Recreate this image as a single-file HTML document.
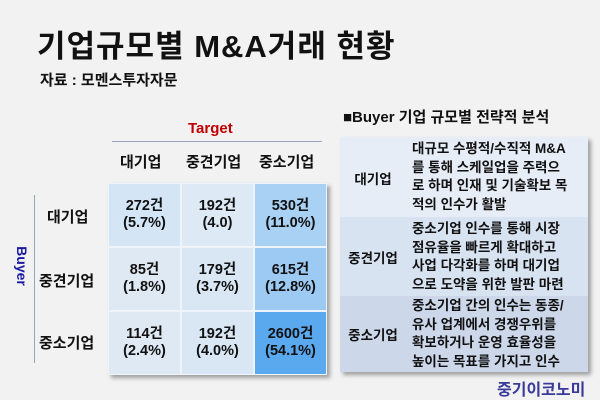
<!DOCTYPE html>
<html><head><meta charset="utf-8"><style>
body{margin:0;width:600px;height:400px;background:#f2f2f2;font-family:"Liberation Sans","Noto Sans CJK KR",sans-serif;font-weight:bold;color:#111;position:relative;overflow:hidden}
.a{position:absolute;white-space:nowrap}
.cell{position:absolute;width:73px;height:64px;display:flex;align-items:center;justify-content:center;text-align:center;font-size:14.5px;line-height:17px;border:1px solid #eef4fa;box-sizing:border-box}
.rb{position:absolute;left:340px;width:248px}
.lab{position:absolute;left:0;width:66px;text-align:center;font-size:13.5px}
.txt{position:absolute;left:72px;font-size:13.5px;line-height:18.5px;white-space:nowrap}
</style></head><body>
<div class="a" style="left:37px;top:21px;font-size:31px;letter-spacing:1px">기업규모별 M&amp;A거래 현황</div>
<div class="a" style="left:40px;top:69px;font-size:15px">자료 : 모멘스투자자문</div>
<div class="a" style="left:188px;top:120px;font-size:15px;color:#c00000">Target</div>
<div class="a" style="left:112px;top:141px;width:210px;height:1px;background:#9aa3b8"></div>
<div class="a" style="left:120px;top:151px;font-size:15px">대기업</div>
<div class="a" style="left:186px;top:151px;font-size:15px">중견기업</div>
<div class="a" style="left:259px;top:151px;font-size:15px">중소기업</div>
<div class="a" style="left:34px;top:195px;width:1px;height:168px;background:#9aa3b8"></div>
<div class="a" style="left:2px;top:258px;font-size:14px;color:#1a1aa0;transform:rotate(90deg);transform-origin:center">Buyer</div>
<div class="a" style="left:47px;top:206px;font-size:15px">대기업</div>
<div class="a" style="left:39px;top:270px;font-size:15px">중견기업</div>
<div class="a" style="left:39px;top:332px;font-size:15px">중소기업</div>
<div style="position:absolute;left:108px;top:183px;width:219px;height:192px;box-shadow:3px 3px 4px rgba(0,0,0,.35)">
<div class="cell" style="left:0;top:0;background:#d4e5f5">272건<br>(5.7%)</div>
<div class="cell" style="left:73px;top:0;background:#dde9f5">192건<br>(4.0)</div>
<div class="cell" style="left:146px;top:0;background:#a9d1f3">530건<br>(11.0%)</div>
<div class="cell" style="left:0;top:64px;background:#dfe9f4">85건<br>(1.8%)</div>
<div class="cell" style="left:73px;top:64px;background:#d9e7f5">179건<br>(3.7%)</div>
<div class="cell" style="left:146px;top:64px;background:#9dcaf2">615건<br>(12.8%)</div>
<div class="cell" style="left:0;top:128px;background:#dfe9f4">114건<br>(2.4%)</div>
<div class="cell" style="left:73px;top:128px;background:#d9e7f5">192건<br>(4.0%)</div>
<div class="cell" style="left:146px;top:128px;background:#5aa8ee">2600건<br>(54.1%)</div>
</div>
<div class="a" style="left:343px;top:106px;font-size:15px">■Buyer 기업 규모별 전략적 분석</div>
<div style="position:absolute;left:340px;top:137px;width:248px;height:235px;box-shadow:3px 3px 4px rgba(0,0,0,.35)">
<div class="rb" style="left:0;top:0;height:80px;background:#e6edf7">
<div class="lab" style="top:31px">대기업</div>
<div class="txt" style="top:3px">대규모 수평적/수직적 M&amp;A<br>를 통해 스케일업을 주력으<br>로 하며 인재 및 기술확보 목<br>적의 인수가 활발</div></div>
<div class="rb" style="left:0;top:80px;height:79px;background:#d8e3f2">
<div class="lab" style="top:30px">중견기업</div>
<div class="txt" style="top:3px">중소기업 인수를 통해 시장<br>점유율을 빠르게 확대하고<br>사업 다각화를 하며 대기업<br>으로 도약을 위한 발판 마련</div></div>
<div class="rb" style="left:0;top:159px;height:76px;background:#ccd7e9">
<div class="lab" style="top:28px">중소기업</div>
<div class="txt" style="top:1px">중소기업 간의 인수는 동종/<br>유사 업계에서 경쟁우위를<br>확보하거나 운영 효율성을<br>높이는 목표를 가지고 인수</div></div>
</div>
<div class="a" style="left:497px;top:376px;font-size:16px;color:#3a3a9a">중기이코노미</div>
</body></html>
